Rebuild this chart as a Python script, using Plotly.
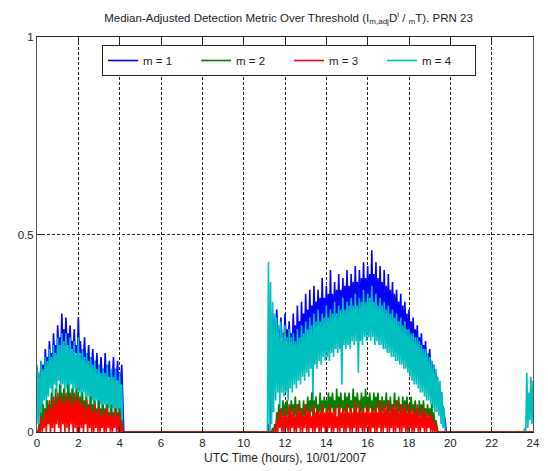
import plotly.graph_objects as go

# ---------------- data ----------------
# Each series is stored per 0.1 h step as a peak value ("hi") and a trough
# value ("lo") half a step later; outside the listed segments the metric is 0.
STEP = 0.1
SERIES_NAMES = ["m = 1", "m = 2", "m = 3", "m = 4"]
SERIES_COLORS = ["#0000ff", "#008000", "#ff0000", "#00bfbf"]
X_TICKS = [0, 2, 4, 6, 8, 10, 12, 14, 16, 18, 20, 22, 24]
Y_TICKS = [0, 0.5, 1]
Y_TICK_LABELS = ["0", "0.5", "1"]

# segment A starts at 0.0 h (42 steps), segment B at 11.2 h (86 steps), C at 23.6 h
m1_A_hi = [0.16, 0.14, 0.18, 0.17, 0.21, 0.19, 0.23, 0.20, 0.25, 0.22,
           0.27, 0.24, 0.30, 0.26, 0.29, 0.25, 0.27, 0.23, 0.26, 0.22,
           0.29, 0.23, 0.21, 0.24, 0.20, 0.22, 0.19, 0.21, 0.18, 0.20,
           0.17, 0.19, 0.16, 0.20, 0.17, 0.18, 0.15, 0.19, 0.16, 0.18,
           0.15, 0.17]
m1_A_lo = [0.14, 0.13, 0.15, 0.14, 0.16, 0.15, 0.18, 0.16, 0.19, 0.17,
           0.20, 0.19, 0.21, 0.20, 0.22, 0.19, 0.21, 0.18, 0.20, 0.17,
           0.20, 0.17, 0.18, 0.16, 0.17, 0.15, 0.16, 0.14, 0.15, 0.13,
           0.14, 0.12, 0.13, 0.12, 0.14, 0.11, 0.13, 0.11, 0.13, 0.10,
           0.12, 0.09]
m1_B_hi = [0.02, 0.10, 0.30, 0.27, 0.31, 0.26, 0.29, 0.25,
           0.30, 0.26, 0.28, 0.25, 0.30, 0.27, 0.32, 0.28, 0.33, 0.30,
           0.35, 0.31, 0.36, 0.32, 0.37, 0.33, 0.36, 0.34, 0.39, 0.34,
           0.37, 0.35, 0.41, 0.35, 0.38, 0.36, 0.40, 0.36, 0.39, 0.37,
           0.41, 0.37, 0.40, 0.38, 0.42, 0.38, 0.41, 0.39, 0.43, 0.39,
           0.42, 0.40, 0.46, 0.40, 0.43, 0.39, 0.42, 0.38, 0.41, 0.37,
           0.40, 0.36, 0.38, 0.35, 0.36, 0.33, 0.35, 0.32, 0.33, 0.30,
           0.31, 0.28, 0.29, 0.26, 0.27, 0.24, 0.25, 0.22, 0.23, 0.20,
           0.21, 0.18, 0.17, 0.15, 0.12, 0.10, 0.07, 0.04]
m1_B_lo = [0.00, 0.05, 0.24, 0.24, 0.25, 0.23, 0.24, 0.22,
           0.23, 0.21, 0.22, 0.21, 0.22, 0.20, 0.22, 0.21, 0.23, 0.22,
           0.24, 0.23, 0.25, 0.24, 0.26, 0.25, 0.27, 0.25, 0.26, 0.26,
           0.28, 0.26, 0.27, 0.27, 0.29, 0.27, 0.28, 0.28, 0.30, 0.28,
           0.29, 0.29, 0.30, 0.29, 0.31, 0.29, 0.30, 0.30, 0.32, 0.30,
           0.31, 0.31, 0.32, 0.30, 0.31, 0.29, 0.30, 0.29, 0.29, 0.28,
           0.28, 0.27, 0.27, 0.26, 0.26, 0.25, 0.25, 0.24, 0.24, 0.23,
           0.22, 0.22, 0.21, 0.21, 0.20, 0.20, 0.18, 0.18, 0.17, 0.17,
           0.15, 0.15, 0.13, 0.13, 0.10, 0.10, 0.06, 0.03]

m2_A_hi = [0.00, 0.02, 0.05, 0.07, 0.06, 0.08, 0.07, 0.10, 0.08, 0.11,
           0.09, 0.12, 0.10, 0.11, 0.09, 0.12, 0.10, 0.11, 0.09, 0.11,
           0.10, 0.09, 0.10, 0.08, 0.09, 0.07, 0.09, 0.07, 0.08, 0.06,
           0.08, 0.06, 0.07, 0.06, 0.07, 0.05, 0.07, 0.05, 0.06, 0.05,
           0.06, 0.03]
m2_A_lo = [0.00, 0.00, 0.01, 0.03, 0.02, 0.04, 0.03, 0.05, 0.03, 0.04,
           0.05, 0.03, 0.04, 0.05, 0.03, 0.04, 0.05, 0.03, 0.04, 0.03,
           0.04, 0.03, 0.03, 0.04, 0.02, 0.03, 0.03, 0.02, 0.03, 0.02,
           0.03, 0.02, 0.02, 0.03, 0.02, 0.02, 0.03, 0.02, 0.02, 0.01,
           0.02, 0.00]
m2_B_hi = [0.00, 0.00, 0.01, 0.02, 0.05, 0.07, 0.06, 0.08,
           0.07, 0.08, 0.06, 0.08, 0.07, 0.09, 0.07, 0.08, 0.06, 0.08,
           0.07, 0.09, 0.08, 0.10, 0.08, 0.09, 0.07, 0.10, 0.08, 0.09,
           0.08, 0.10, 0.09, 0.10, 0.08, 0.11, 0.09, 0.10, 0.08, 0.10,
           0.09, 0.10, 0.08, 0.11, 0.09, 0.10, 0.08, 0.10, 0.09, 0.11,
           0.09, 0.10, 0.08, 0.10, 0.09, 0.10, 0.08, 0.09, 0.08, 0.10,
           0.08, 0.09, 0.07, 0.10, 0.08, 0.09, 0.07, 0.09, 0.08, 0.09,
           0.07, 0.09, 0.07, 0.08, 0.06, 0.08, 0.07, 0.08, 0.06, 0.07,
           0.06, 0.07, 0.05, 0.03, 0.00, 0.00, 0.00, 0.00]
m2_B_lo = [0.00, 0.00, 0.00, 0.00, 0.02, 0.03, 0.02, 0.04,
           0.03, 0.04, 0.03, 0.05, 0.04, 0.03, 0.05, 0.04, 0.03, 0.04,
           0.05, 0.04, 0.05, 0.04, 0.06, 0.04, 0.05, 0.04, 0.05, 0.06,
           0.04, 0.05, 0.06, 0.05, 0.04, 0.06, 0.05, 0.06, 0.05, 0.04,
           0.06, 0.05, 0.06, 0.04, 0.05, 0.06, 0.05, 0.04, 0.06, 0.05,
           0.05, 0.06, 0.04, 0.05, 0.06, 0.05, 0.04, 0.05, 0.06, 0.05,
           0.05, 0.04, 0.05, 0.06, 0.04, 0.05, 0.04, 0.05, 0.04, 0.05,
           0.04, 0.05, 0.04, 0.04, 0.03, 0.04, 0.04, 0.03, 0.03, 0.04,
           0.03, 0.02, 0.02, 0.01, 0.00, 0.00, 0.00, 0.00]

m3_A_hi = [0.00, 0.01, 0.04, 0.03, 0.06, 0.05, 0.08, 0.06, 0.09, 0.07,
           0.10, 0.08, 0.09, 0.07, 0.10, 0.08, 0.09, 0.07, 0.10, 0.08,
           0.09, 0.07, 0.08, 0.06, 0.08, 0.06, 0.07, 0.05, 0.07, 0.05,
           0.06, 0.04, 0.06, 0.05, 0.06, 0.04, 0.05, 0.04, 0.06, 0.04,
           0.05, 0.02]
m3_A_lo = [0.00, 0.00, 0.00, 0.01, 0.00, 0.02, 0.00, 0.01, 0.00, 0.02,
           0.01, 0.00, 0.02, 0.00, 0.01, 0.00, 0.02, 0.00, 0.01, 0.00,
           0.00, 0.01, 0.00, 0.02, 0.00, 0.01, 0.00, 0.00, 0.01, 0.00,
           0.00, 0.01, 0.00, 0.00, 0.01, 0.00, 0.00, 0.01, 0.00, 0.00,
           0.00, 0.00]
m3_B_hi = [0.00, 0.00, 0.00, 0.01, 0.03, 0.05, 0.06, 0.04,
           0.06, 0.04, 0.07, 0.05, 0.06, 0.04, 0.07, 0.05, 0.06, 0.04,
           0.07, 0.05, 0.06, 0.04, 0.07, 0.05, 0.06, 0.05, 0.07, 0.05,
           0.06, 0.05, 0.07, 0.05, 0.06, 0.04, 0.07, 0.05, 0.06, 0.05,
           0.07, 0.05, 0.06, 0.05, 0.08, 0.05, 0.07, 0.05, 0.06, 0.05,
           0.07, 0.05, 0.06, 0.05, 0.07, 0.05, 0.08, 0.05, 0.07, 0.06,
           0.08, 0.05, 0.07, 0.06, 0.08, 0.05, 0.07, 0.06, 0.07, 0.05,
           0.07, 0.05, 0.06, 0.05, 0.07, 0.04, 0.06, 0.05, 0.06, 0.04,
           0.05, 0.04, 0.03, 0.02, 0.00, 0.00, 0.00, 0.00]
m3_B_lo = [0.00, 0.00, 0.00, 0.00, 0.00, 0.01, 0.00, 0.00,
           0.01, 0.00, 0.00, 0.01, 0.00, 0.00, 0.01, 0.00, 0.00, 0.01,
           0.00, 0.00, 0.01, 0.00, 0.00, 0.01, 0.00, 0.00, 0.01, 0.00,
           0.00, 0.01, 0.00, 0.00, 0.01, 0.00, 0.00, 0.01, 0.00, 0.00,
           0.01, 0.00, 0.00, 0.01, 0.00, 0.00, 0.01, 0.00, 0.00, 0.01,
           0.00, 0.00, 0.01, 0.00, 0.00, 0.01, 0.00, 0.00, 0.01, 0.00,
           0.00, 0.01, 0.00, 0.00, 0.01, 0.00, 0.00, 0.01, 0.00, 0.00,
           0.01, 0.00, 0.00, 0.01, 0.00, 0.00, 0.01, 0.00, 0.00, 0.01,
           0.00, 0.00, 0.00, 0.00, 0.00, 0.00, 0.00, 0.00]

m4_A_hi = [0.17, 0.15, 0.18, 0.16, 0.19, 0.18, 0.21, 0.19, 0.22, 0.20,
           0.24, 0.22, 0.25, 0.23, 0.25, 0.22, 0.24, 0.21, 0.23, 0.20,
           0.24, 0.20, 0.21, 0.19, 0.20, 0.18, 0.19, 0.17, 0.18, 0.16,
           0.17, 0.15, 0.16, 0.15, 0.17, 0.14, 0.16, 0.14, 0.16, 0.13,
           0.15, 0.12]
m4_A_lo = [0.02, 0.00, 0.05, 0.08, 0.06, 0.09, 0.11, 0.07, 0.12, 0.10,
           0.13, 0.09, 0.12, 0.10, 0.11, 0.08, 0.12, 0.09, 0.11, 0.08,
           0.10, 0.07, 0.10, 0.08, 0.09, 0.06, 0.08, 0.05, 0.08, 0.06,
           0.07, 0.05, 0.07, 0.04, 0.06, 0.05, 0.06, 0.03, 0.05, 0.04,
           0.03, 0.00]
m4_B_hi = [0.43, 0.38, 0.33, 0.30, 0.29, 0.27, 0.28, 0.25,
           0.27, 0.24, 0.26, 0.24, 0.25, 0.23, 0.26, 0.24, 0.27, 0.25,
           0.28, 0.26, 0.29, 0.27, 0.30, 0.28, 0.31, 0.28, 0.30, 0.29,
           0.32, 0.29, 0.31, 0.30, 0.33, 0.30, 0.32, 0.31, 0.34, 0.31,
           0.33, 0.32, 0.34, 0.32, 0.35, 0.32, 0.34, 0.33, 0.36, 0.33,
           0.35, 0.34, 0.37, 0.33, 0.35, 0.32, 0.34, 0.32, 0.33, 0.31,
           0.32, 0.30, 0.31, 0.29, 0.30, 0.28, 0.29, 0.27, 0.28, 0.26,
           0.26, 0.25, 0.25, 0.24, 0.24, 0.23, 0.22, 0.21, 0.21, 0.20,
           0.19, 0.18, 0.17, 0.16, 0.14, 0.13, 0.10, 0.06]
m4_B_lo = [0.00, 0.02, 0.05, 0.08, 0.10, 0.06, 0.10, 0.09,
           0.10, 0.08, 0.11, 0.10, 0.12, 0.11, 0.13, 0.12, 0.14, 0.13,
           0.15, 0.14, 0.16, 0.08, 0.17, 0.16, 0.18, 0.17, 0.19, 0.18,
           0.19, 0.18, 0.20, 0.19, 0.21, 0.20, 0.21, 0.12, 0.22, 0.21,
           0.22, 0.21, 0.23, 0.22, 0.23, 0.15, 0.23, 0.22, 0.24, 0.23,
           0.24, 0.23, 0.24, 0.22, 0.23, 0.22, 0.22, 0.21, 0.21, 0.20,
           0.20, 0.19, 0.19, 0.18, 0.18, 0.17, 0.17, 0.16, 0.16, 0.15,
           0.14, 0.13, 0.12, 0.12, 0.11, 0.10, 0.10, 0.09, 0.08, 0.08,
           0.07, 0.06, 0.05, 0.05, 0.04, 0.02, 0.01, 0.00]
m4_C_hi = [0.01, 0.15, 0.10, 0.14, 0.13]
m4_C_lo = [0.00, 0.01, 0.03, 0.02, 0.00]

SEG_A, SEG_B, SEG_C = 0.0, 11.2, 23.6
series_segments = [
    [(SEG_A, m1_A_hi, m1_A_lo), (SEG_B, m1_B_hi, m1_B_lo)],
    [(SEG_A, m2_A_hi, m2_A_lo), (SEG_B, m2_B_hi, m2_B_lo)],
    [(SEG_A, m3_A_hi, m3_A_lo), (SEG_B, m3_B_hi, m3_B_lo)],
    [(SEG_A, m4_A_hi, m4_A_lo), (SEG_B, m4_B_hi, m4_B_lo), (SEG_C, m4_C_hi, m4_C_lo)],
]


def build(segments):
    xs, ys = [], []
    for start, hi, lo in segments:
        if start > 0:
            xs.append(start - STEP / 2)
            ys.append(0.0)
        for i, (h, l) in enumerate(zip(hi, lo)):
            t = start + i * STEP
            xs += [t, t + STEP / 2]
            ys += [h, l]
        end = start + len(hi) * STEP
        if end < 24:
            xs.append(end)
            ys.append(0.0)
    if xs[-1] < 24:
        xs.append(24.0)
        ys.append(0.0)
    return xs, ys


FONT = "Arial, Liberation Sans, sans-serif"
fig = go.Figure()
draw_order = [0, 3, 1, 2]  # blue, cyan, green, red (red on top)
for k in draw_order:
    xs, ys = build(series_segments[k])
    fig.add_trace(go.Scatter(
        x=xs, y=ys, mode="lines", name=SERIES_NAMES[k],
        line=dict(color=SERIES_COLORS[k], width=1.6),
        legendrank=k + 1, hoverinfo="skip"))

W, H = 548, 471
L, R, T, B = 37, 540, 37, 432
fig.update_layout(
    width=W, height=H,
    margin=dict(l=L, r=W - R, t=T, b=H - B),
    paper_bgcolor="white", plot_bgcolor="white",
    font=dict(family=FONT, size=11, color="#222222"),
    showlegend=True,
    legend=dict(
        orientation="h", x=(103 - L) / (R - L), y=1 - (45 - T) / (B - T),
        xanchor="left", yanchor="top",
        bordercolor="#222222", borderwidth=1, bgcolor="white",
        font=dict(family=FONT, size=11.5, color="#222222"),
        entrywidth=48, entrywidthmode="pixels", traceorder="normal",
        tracegroupgap=0),
    title=dict(
        text="Median-Adjusted Detection Metric Over Threshold (I<sub>m,adj</sub>D<sup>i</sup> / <sub>m</sub>T). PRN 23",
        x=(L + R) / 2 / W, xanchor="center", xref="container",
        y=1 - 18 / H, yanchor="middle", yref="container",
        font=dict(family=FONT, size=11.5, color="#222222")),
    xaxis=dict(
        range=[0, 24], tickvals=X_TICKS, ticktext=[str(v) for v in X_TICKS],
        ticks="inside", ticklen=5, tickcolor="#222222", tickwidth=1,
        showline=True, linecolor="#222222", linewidth=1, mirror="ticks",
        showgrid=True, gridcolor="#222222", gridwidth=1, griddash="3px,2px",
        zeroline=False, tickfont=dict(family=FONT, size=11.5, color="#222222")),
    yaxis=dict(
        range=[0, 1], tickvals=Y_TICKS, ticktext=Y_TICK_LABELS,
        ticks="inside", ticklen=5, tickcolor="#222222", tickwidth=1,
        showline=True, linecolor="#555555", linewidth=1, mirror="ticks",
        showgrid=True, gridcolor="#222222", gridwidth=1, griddash="3px,2px",
        zeroline=False, tickfont=dict(family=FONT, size=11.5, color="#222222")),
    annotations=[dict(
        text="UTC Time (hours), 10/01/2007", xref="paper", yref="paper",
        x=0.5, y=-(458 - B) / (B - T), xanchor="center", yanchor="middle",
        showarrow=False, font=dict(family=FONT, size=12, color="#222222"))],
)
fig.write_html("out.html")
